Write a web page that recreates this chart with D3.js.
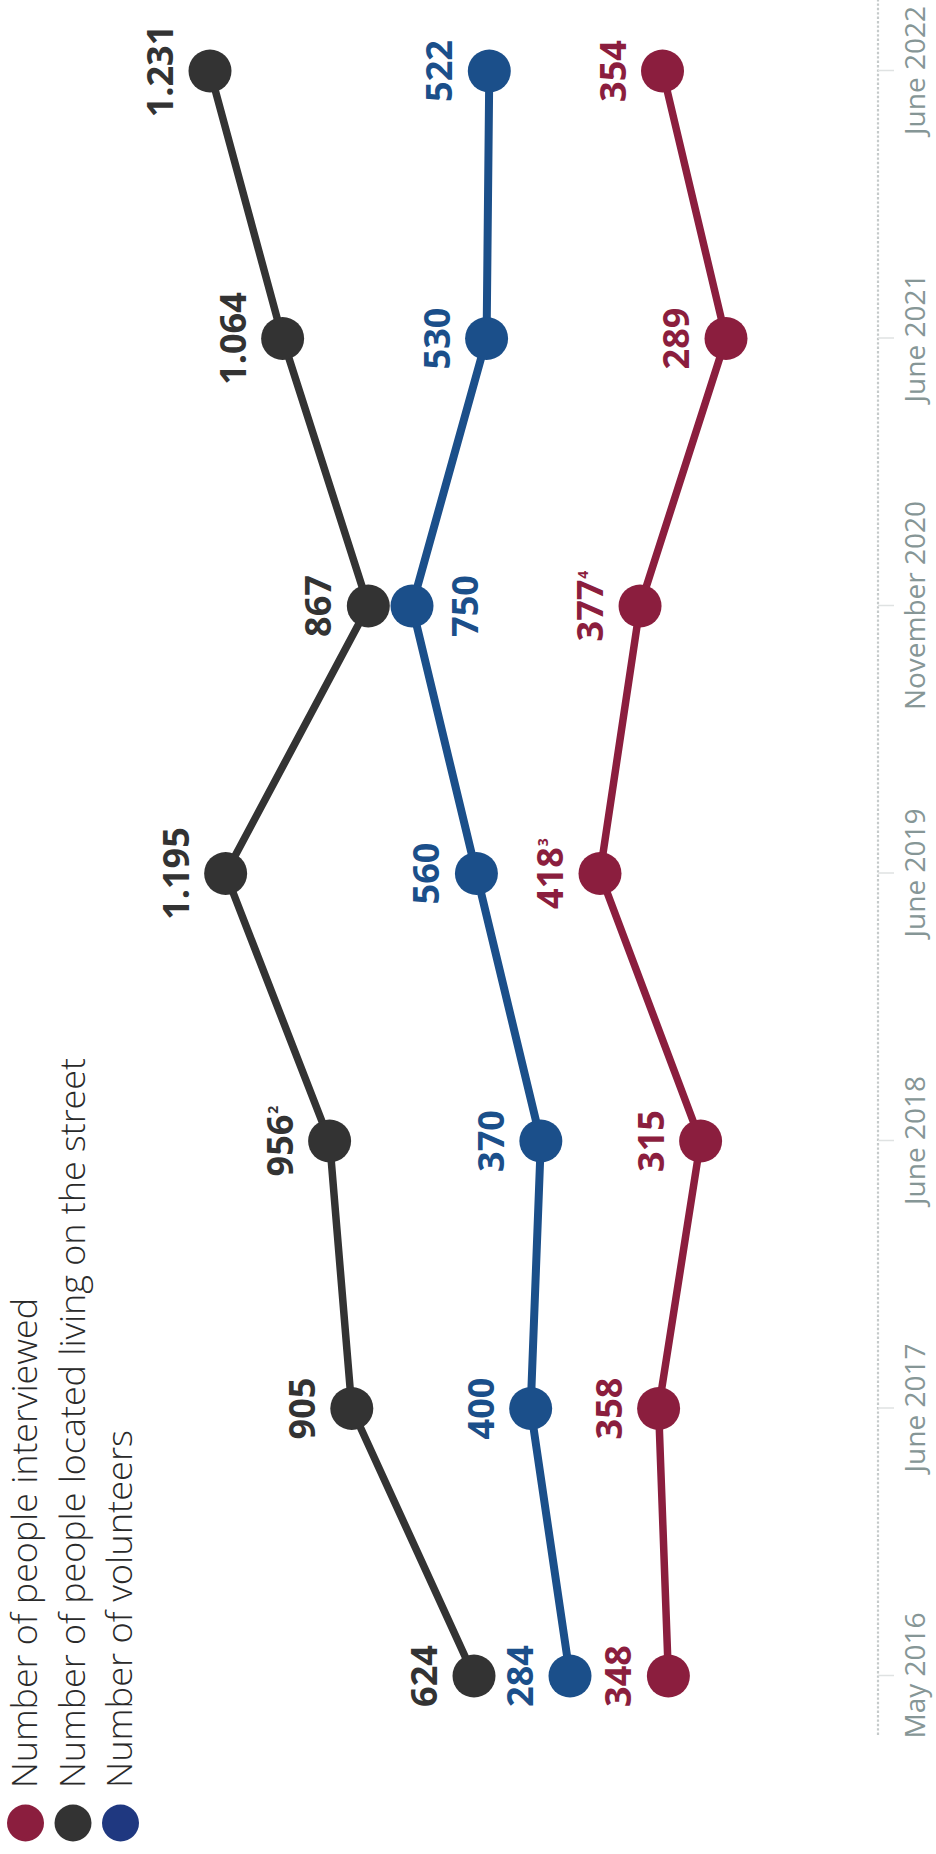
<!DOCTYPE html>
<html><head><meta charset="utf-8">
<script src="https://cdn.jsdelivr.net/npm/d3@7"></script>
<style>html,body{margin:0;padding:0;background:#fff;} svg{display:block}</style>
</head><body>
<svg id="chart" width="936" height="1854"></svg>
<script>
// ---- data ----
const periods = ["May 2016", "June 2017", "June 2018", "June 2019", "November 2020", "June 2021", "June 2022"];
const interviewed = [348, 358, 315, 418, 377, 289, 354];
const livingOnStreet = [624, 905, 956, 1195, 867, 1064, 1231];
const volunteers = [284, 400, 370, 560, 750, 530, 522];
const interviewedNotes = ["", "", "", "3", "4", "", ""];
const livingOnStreetNotes = ["", "", "2", "", "", "", ""];
const volunteersNotes = ["", "", "", "", "", "", ""];
const legendLabels = ["Number of people interviewed", "Number of people located living on the street", "Number of volunteers"];

// ---- layout (chart drawn horizontally, then rotated -90deg) ----
const svg = d3.select("#chart");
const g = svg.append("g").attr("transform", "translate(0,1854) rotate(-90)");

const x = d3.scalePoint().domain(periods).range([178, 1783]);
const yStreet = d3.scaleLinear().domain(d3.extent(livingOnStreet)).range([474, 210]);
const yVol = d3.scaleLinear().domain(d3.extent(volunteers)).range([570, 412]);
const yInt = d3.scaleLinear().domain(d3.extent(interviewed)).range([726, 600]);

const fmt = d3.formatLocale({decimal: ",", thousands: ".", grouping: [3], currency: ["", ""]}).format(",d");

// axis
const axisY = 878;
g.append("line")
  .attr("x1", 119).attr("x2", 1854).attr("y1", axisY).attr("y2", axisY)
  .attr("stroke", "#c5caca").attr("stroke-width", 2.2).attr("stroke-dasharray", "2.4,2");
const axis = g.append("g").attr("transform", `translate(0,${axisY})`)
  .call(d3.axisBottom(x).tickSize(16).tickSizeOuter(0).tickPadding(11));
axis.select(".domain").remove();
axis.selectAll(".tick line").attr("stroke", "#dfe2e2").attr("stroke-width", 1.5);
axis.selectAll(".tick text")
  .attr("fill", "#869696").attr("font-family", "'Open Sans', sans-serif")
  .attr("font-size", 28);

const series = [
  {values: livingOnStreet, notes: livingOnStreetNotes, y: yStreet, color: "#333333", width: 7.5, below: []},
  {values: interviewed, notes: interviewedNotes, y: yInt, color: "#8b1e3e", width: 7.5, below: []},
  {values: volunteers, notes: volunteersNotes, y: yVol, color: "#1b4f8a", width: 8, below: [4]}
];

series.forEach(s => {
  const line = d3.line().x((d, i) => x(periods[i])).y(d => s.y(d));
  g.append("path").datum(s.values)
    .attr("d", line).attr("fill", "none")
    .attr("stroke", s.color).attr("stroke-width", s.width)
    .attr("stroke-linejoin", "round");
});

series.forEach(s => {
  g.append("g").selectAll("circle").data(s.values).join("circle")
    .attr("cx", (d, i) => x(periods[i])).attr("cy", d => s.y(d))
    .attr("r", 21.5).attr("fill", s.color);
});

series.forEach(s => {
  const t = g.append("g").selectAll("text").data(s.values).join("text")
    .attr("x", (d, i) => x(periods[i]))
    .attr("y", (d, i) => s.below.includes(i) ? s.y(d) + 66 : s.y(d) - 37)
    .attr("text-anchor", "middle")
    .attr("font-family", "'Open Sans', sans-serif")
    .attr("font-weight", 700).attr("font-size", 36)
    .attr("fill", s.color);
  t.append("tspan").text(d => fmt(d));
  t.append("tspan").attr("font-size", 14).attr("dy", -15)
    .attr("dx", 1)
    .text((d, i) => s.notes[i]);
});

// legend
const legendColors = ["#8b1e3e", "#333333", "#1f3880"];
const legendLengths = [490, 730, 358];
const lg = g.append("g");
legendLabels.forEach((lab, i) => {
  const w = 25.5 + i * 47.5;
  lg.append("circle").attr("cx", 31).attr("cy", w).attr("r", 18.5).attr("fill", legendColors[i]);
  lg.append("text").attr("x", 66).attr("y", w + 11.5)
    .attr("font-family", "'Open Sans', sans-serif").attr("font-weight", 300)
    .attr("font-size", 34).attr("fill", "#2a2a2a")
    .attr("textLength", legendLengths[i]).attr("lengthAdjust", "spacingAndGlyphs")
    .text(lab);
});
</script>
</body></html>
